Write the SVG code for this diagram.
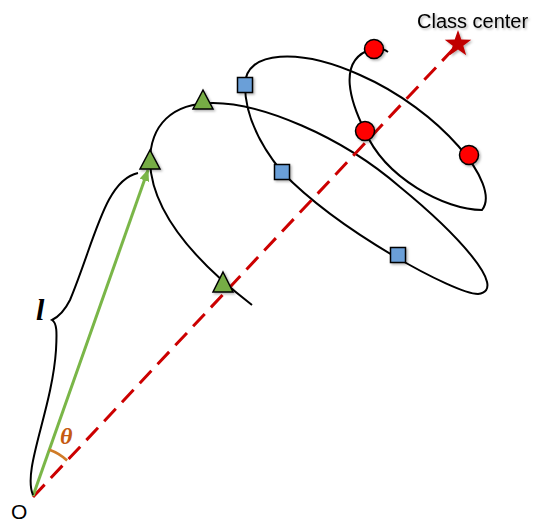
<svg xmlns="http://www.w3.org/2000/svg" width="536" height="525" viewBox="0 0 536 525">
<defs>
<filter id="sh" x="-50%" y="-50%" width="200%" height="200%">
<feDropShadow dx="1.5" dy="1.5" stdDeviation="1.2" flood-color="#000" flood-opacity="0.3"/>
</filter>
<marker id="ah" markerWidth="12" markerHeight="10" refX="11" refY="5" orient="auto" markerUnits="userSpaceOnUse">
<path d="M0,0 L12,5 L0,10 Z" fill="#7ab648"/>
</marker>
<style>
.tri{fill:#76ac45;stroke:#000;stroke-width:1.5;filter:url(#sh)}
.sq{fill:#6a9fd8;stroke:#000;stroke-width:1.5;filter:url(#sh)}
.ci{fill:#ff0000;stroke:#000;stroke-width:1.5;filter:url(#sh)}
.curve{fill:none;stroke:#000;stroke-width:2}
</style>
</defs>
<rect width="536" height="525" fill="#fff"/>
<g id="connectors">
<path id="spiral" class="curve" d="M252,305 C200,265 152,215 150,162 C150,125 172,103 213,103 C260,103 340,135 400,187 C455,232 510,290 478,294 C455,294 340,232 282,172 C260,145 245,115 245,85 C245,50 300,48 360,75 C440,110 502,185 482,210 C445,210 385,178 365,131 C352,105 335,60 372,49 C378,48 384,49 388,52"/>
<line id="class-direction" x1="33" y1="497" x2="458" y2="44" stroke="#cc0000" stroke-width="3" stroke-dasharray="17 9"/>
<line id="feature-vector" x1="33" y1="496" x2="148" y2="170" stroke="#7ab648" stroke-width="3" marker-end="url(#ah)"/>
<path id="brace" class="curve" d="M33,495 C22,470 52,410 56,350 C57,332 57,323 52,320 C58,317 64,312 70,300 C95,240 105,180 138,173"/>
<path id="angle-arc" d="M49.4,449.7 A50,50 0 0 1 67.1,460.5" fill="none" stroke="#d07b27" stroke-width="2.5"/>
</g>
<g id="triangle-1"><polygon class="tri" points="223,272 233,292 213,292"/></g>
<g id="triangle-2"><polygon class="tri" points="203,90 213,109 193,109"/></g>
<g id="triangle-3"><polygon class="tri" points="150,150 160,169 140,169"/></g>
<g id="square-1"><rect class="sq" x="237.5" y="77.5" width="15" height="15"/></g>
<g id="square-2"><rect class="sq" x="274.5" y="164.5" width="15" height="15"/></g>
<g id="square-3"><rect class="sq" x="390.5" y="247.5" width="15" height="15"/></g>
<g id="circle-1"><circle class="ci" cx="374" cy="49" r="9.5"/></g>
<g id="circle-2"><circle class="ci" cx="365" cy="131" r="9.5"/></g>
<g id="circle-3"><circle class="ci" cx="469" cy="155" r="9.5"/></g>
<g id="class-center">
<polygon points="458,30 461.3,39.5 471.3,39.7 463.3,45.7 466.2,55.3 458,49.6 449.8,55.3 452.7,45.7 444.7,39.7 454.7,39.5" fill="#c00000" filter="url(#sh)"/>
<text x="417" y="28" font-family="'Liberation Sans', Arial, sans-serif" font-size="20" fill="#000" filter="url(#sh)">Class center</text>
</g>
<g id="label-l"><text x="36" y="320" font-family="'Liberation Serif', 'Times New Roman', serif" font-size="30" font-weight="bold" font-style="italic" fill="#000">l</text></g>
<g id="label-theta"><text x="60" y="444" font-family="'Liberation Serif', 'Times New Roman', serif" font-size="24" font-weight="bold" font-style="italic" fill="#c55a11">θ</text></g>
<g id="label-o"><text x="11" y="519" font-family="'Liberation Sans', Arial, sans-serif" font-size="21" fill="#000">O</text></g>
</svg>
